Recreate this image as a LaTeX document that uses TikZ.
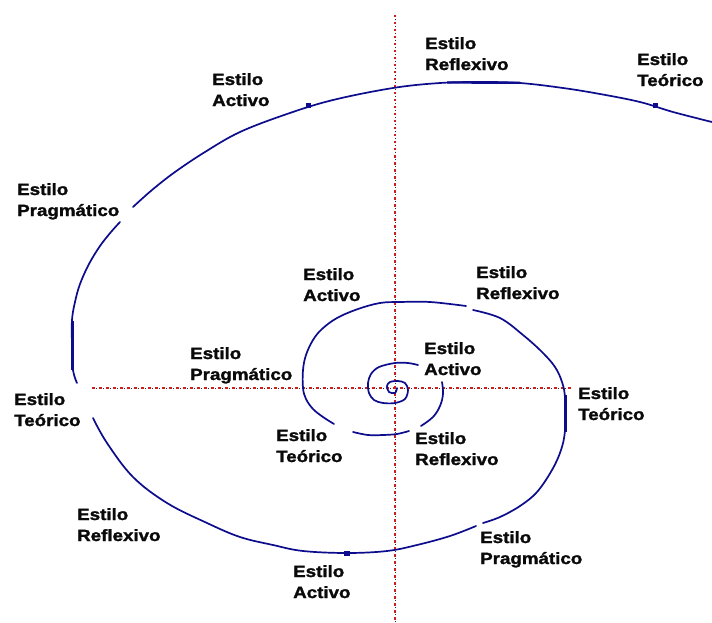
\documentclass[tikz,border=0pt]{standalone}
\usepackage{fontspec}
\newfontfamily\labfont[FakeStretch=1.15,FakeBold=1.6]{Liberation Sans Bold}
\definecolor{spircol}{RGB}{12,12,140}
\definecolor{labcol}{RGB}{10,10,10}
\definecolor{axred}{RGB}{205,30,30}
\definecolor{axdark}{RGB}{60,40,40}
\tikzset{
  lab/.style={anchor=north west, inner sep=0pt, align=left, text=labcol,
    font=\labfont\fontsize{16.3}{21}\selectfont},
  spir/.style={draw=spircol, line width=1.7pt, line cap=round, line join=round},
  thickpart/.style={draw=spircol, line width=3pt},
  axisred/.style={draw=axred, line width=1.5pt, dash pattern=on 2.5pt off 4.5pt},
  axisdark/.style={draw=axdark, line width=1pt, dash pattern=on 1pt off 6pt, dash phase=-4pt},
  blob/.style={fill=spircol}
}
\begin{document}
\begin{tikzpicture}[x=1pt,y=-1pt]
\useasboundingbox (0,0) rectangle (712,623);
\fill[white] (0,0) rectangle (712,623);
% axes
\coordinate (vtop) at (395,15);
\coordinate (vbot) at (395,623);
\coordinate (hl) at (92,388);
\coordinate (hr) at (572,388);
\draw[axisred] (vtop) -- (vbot);
\draw[axisdark] (vtop) -- (vbot);
\draw[axisred] (hl) -- (hr);
\draw[axisdark] (hl) -- (hr);
% spiral segments
\draw[spir] plot[smooth, tension=0.55] coordinates {(397,388) (395,393) (389,392) (387,386) (390,382) (398,381) (405,383) (408,390) (405,399) (395,403) (383,403) (374,400) (369,393) (368,383) (371,374) (379,367) (395,363) (408,363) (418,365)};
\draw[spir] plot[smooth, tension=0.6] coordinates {(442,382) (443,394) (440,406) (433,417) (421,426)};
\draw[spir] plot[smooth, tension=0.6] coordinates {(409,431) (397,434) (383,435) (368,435) (353,432)};
\draw[spir] plot[smooth, tension=0.6] coordinates {(334,424) (323,417) (313,409) (306,399) (303,388) (303,370) (306,355) (313,340) (322,329) (337,318) (358,309) (380,303) (400,302) (430,302) (466,306)};
\draw[spir] plot[smooth, tension=0.6] coordinates {(473,310) (500,318) (523,335) (542,352) (555,367) (562,382) (565,398) (565,430) (561,450) (552,470) (537,492) (520,506) (500,517) (483,523)};
\draw[spir] plot[smooth, tension=0.6] coordinates {(476,526) (450,536) (417,545) (387,551) (347,553) (303,551) (273,545) (240,537) (207,523) (167,503) (133,477) (107,443) (93,418)};
\draw[spir] plot[smooth, tension=0.6] coordinates {(77,383) (73,370) (72,345) (72,320) (75,302) (80,284) (89,264) (100,246) (111,232) (120,222)};
\draw[spir] plot[smooth, tension=0.6] coordinates {(133,207) (152,190) (175,172) (205,152) (240,132) (287,114) (333,100) (393,88) (440,83) (480,82) (520,83) (563,88) (600,94) (640,102) (673,112) (712,122)};
% thicker pieces
\draw[thickpart] (72.5,321) -- (72.5,370);
\draw[thickpart] (565,395) -- (565,432);
\draw[spircol, line width=2.3pt] (447,82.5) -- (520,82.8);
\fill[blob] (305.5,103.5) rectangle (311,108.5);
\fill[blob] (652.5,103.5) rectangle (658,108.5);
\fill[blob] (344,550.5) rectangle (350,555.5);
% labels
\node[lab] (l1) at (425,37) {Estilo\\Reflexivo};
\node[lab] (l2) at (637,53) {Estilo\\Teórico};
\node[lab] (l3) at (212,73) {Estilo\\Activo};
\node[lab] (l4) at (17,183) {Estilo\\Pragmático};
\node[lab] (l5) at (303,268) {Estilo\\Activo};
\node[lab] (l6) at (476,266) {Estilo\\Reflexivo};
\node[lab] (l7) at (190,347) {Estilo\\Pragmático};
\node[lab] (l8) at (424,342) {Estilo\\Activo};
\node[lab] (l9) at (14,393) {Estilo\\Teórico};
\node[lab] (l10) at (578,387) {Estilo\\Teórico};
\node[lab] (l11) at (276,429) {Estilo\\Teórico};
\node[lab] (l12) at (415,432) {Estilo\\Reflexivo};
\node[lab] (l13) at (77,508) {Estilo\\Reflexivo};
\node[lab] (l14) at (480,531) {Estilo\\Pragmático};
\node[lab] (l15) at (293,565) {Estilo\\Activo};
\end{tikzpicture}
\end{document}
